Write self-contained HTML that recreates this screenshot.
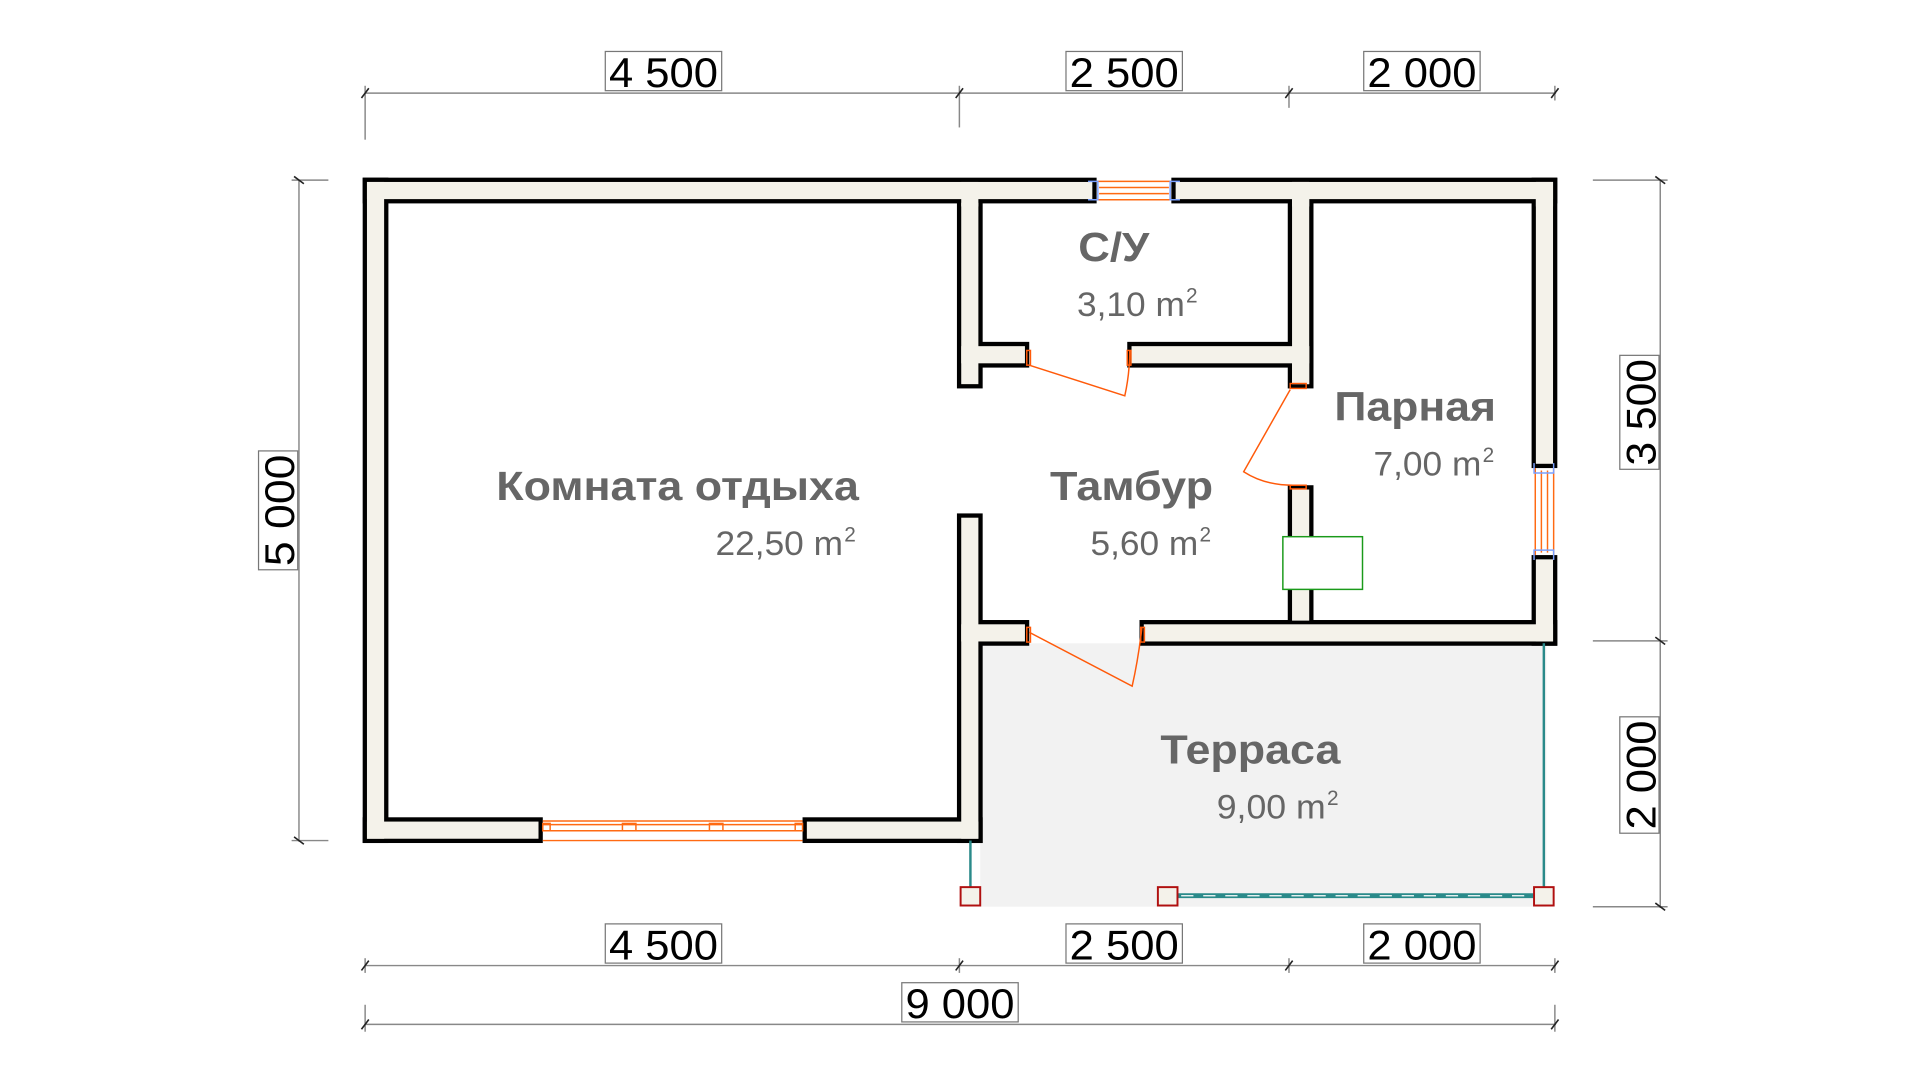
<!DOCTYPE html>
<html><head><meta charset="utf-8"><style>html,body{margin:0;padding:0;background:#fff}svg{display:block}</style></head><body>
<svg width="1920" height="1080" viewBox="0 0 1567 881.4" preserveAspectRatio="none" xmlns="http://www.w3.org/2000/svg" font-family="Liberation Sans, sans-serif">
<rect x="0" y="0" width="1570" height="890" fill="#fff"/>
<!-- terrace -->
<rect x="800" y="525" width="462" height="215" fill="#f2f2f2"/>
<!-- walls black outline pass -->
<g fill="#000">
<rect x="296" y="145" width="599" height="21"/>
<rect x="956" y="145" width="315" height="21"/>
<rect x="296" y="145" width="21" height="543"/>
<rect x="296" y="667" width="147" height="21"/>
<rect x="655" y="667" width="147" height="21"/>
<rect x="781" y="162" width="21" height="155"/>
<rect x="781" y="419" width="21" height="269"/>
<rect x="798" y="279" width="42" height="21"/>
<rect x="798" y="506" width="42" height="21"/>
<rect x="920" y="279" width="152" height="21"/>
<rect x="1051" y="162" width="21" height="155"/>
<rect x="1051" y="396" width="21" height="114"/>
<rect x="930" y="506" width="341" height="21"/>
<rect x="1250" y="145" width="21" height="237"/>
<rect x="1250" y="453" width="21" height="74"/>
</g>
<g fill="#f4f2ea">
<rect x="299.5" y="148.5" width="592" height="14"/>
<rect x="959.5" y="148.5" width="308" height="14"/>
<rect x="299.5" y="148.5" width="14" height="536"/>
<rect x="299.5" y="670.5" width="140" height="14"/>
<rect x="658.5" y="670.5" width="140" height="14"/>
<rect x="784.5" y="165.5" width="14" height="148"/>
<rect x="784.5" y="422.5" width="14" height="262"/>
<rect x="784.5" y="282.5" width="52" height="14"/>
<rect x="784.5" y="509.5" width="52" height="14"/>
<rect x="923.5" y="282.5" width="145" height="14"/>
<rect x="1054.5" y="148.5" width="14" height="165"/>
<rect x="1054.5" y="282.5" width="14" height="31"/>
<rect x="1054.5" y="399.5" width="14" height="107"/>
<rect x="933.5" y="509.5" width="334" height="14"/>
<rect x="1253.5" y="148.5" width="14" height="230"/>
<rect x="1253.5" y="456.5" width="14" height="67"/>
<rect x="784.5" y="148.5" width="14" height="20"/>
<rect x="1054.5" y="148.5" width="14" height="20"/>
<rect x="1253.5" y="509.5" width="14" height="14"/>
<rect x="1253.5" y="148.5" width="14" height="20"/>
</g>
<!-- windows -->
<g fill="none" stroke="#ff6a13" stroke-width="1.2">
<line x1="895" y1="148" x2="956" y2="148"/><line x1="895" y1="163" x2="956" y2="163"/>
<line x1="897" y1="153" x2="954" y2="153"/><line x1="897" y1="158" x2="954" y2="158"/>
<line x1="1253" y1="382" x2="1253" y2="453"/><line x1="1268" y1="382" x2="1268" y2="453"/>
<line x1="1258" y1="384" x2="1258" y2="451"/><line x1="1263" y1="384" x2="1263" y2="451"/>
<line x1="443" y1="670" x2="655" y2="670"/><line x1="443" y1="686" x2="655" y2="686"/>
<line x1="443" y1="673" x2="655" y2="673"/><line x1="443" y1="678" x2="655" y2="678"/>
<rect x="443" y="672" width="6" height="6"/><rect x="508" y="672" width="11" height="6"/><rect x="579" y="672" width="11" height="6"/><rect x="649" y="672" width="6" height="6"/>
</g>
<g fill="none" stroke="#7aa0ff" stroke-width="1.2">
<path d="M888 148 h8 v15 h-8 M963 148 h-8 v15 h8"/>
<path d="M1252 378 v8 h16 v-8 M1252 457 v-8 h16 v8"/>
</g>
<!-- doors -->
<g fill="none" stroke="#ff5a0a" stroke-width="1.2">
<rect x="838" y="286" width="3" height="12"/>
<path d="M840 298 L918 323 Q922 305 922 286"/>
<rect x="920" y="286" width="3" height="12"/>
<rect x="1053" y="313" width="13" height="4"/>
<path d="M1053 318 L1015 385 Q1032 396 1055 396"/>
<rect x="1053" y="396" width="13" height="3"/>
<rect x="838" y="512" width="3" height="12"/>
<path d="M840 516 L924 560 Q929 538 932 512"/>
<rect x="931" y="512" width="3" height="12"/>
</g>
<!-- stove -->
<rect x="1047" y="438" width="65" height="43" fill="#fff" stroke="#1a9a1a" stroke-width="1.2"/>
<!-- terrace rails -->
<g stroke="#2a8a8a" fill="none">
<line x1="792" y1="686" x2="792" y2="725" stroke-width="2"/>
<line x1="1260" y1="525" x2="1260" y2="725" stroke-width="2"/>
<line x1="961" y1="731" x2="1253" y2="731" stroke-width="4"/>
</g>
<line x1="964" y1="731" x2="1250" y2="731" stroke="#fff" stroke-width="1" stroke-dasharray="10 8"/>
<g fill="#f4f2ea" stroke="#b01010" stroke-width="1.6">
<rect x="784" y="724" width="16" height="15"/><rect x="945" y="724" width="16" height="15"/><rect x="1252" y="724" width="16" height="15"/>
</g>
<!-- dimension lines -->
<g stroke="#888" stroke-width="1.2" fill="none">
<line x1="298" y1="76" x2="1270" y2="76"/>
<line x1="298" y1="70" x2="298" y2="114"/><line x1="783" y1="70" x2="783" y2="104"/><line x1="1052" y1="70" x2="1052" y2="88"/><line x1="1269" y1="70" x2="1269" y2="82"/>
<line x1="298" y1="788" x2="1270" y2="788"/>
<line x1="298" y1="782" x2="298" y2="794"/><line x1="783" y1="782" x2="783" y2="794"/><line x1="1052" y1="782" x2="1052" y2="794"/><line x1="1269" y1="782" x2="1269" y2="794"/>
<line x1="298" y1="836" x2="1270" y2="836"/>
<line x1="298" y1="820" x2="298" y2="842"/><line x1="1269" y1="820" x2="1269" y2="842"/>
<line x1="244" y1="147" x2="244" y2="687"/>
<line x1="238" y1="147" x2="268" y2="147"/><line x1="238" y1="686" x2="268" y2="686"/>
<line x1="1355" y1="147" x2="1355" y2="741"/>
<line x1="1300" y1="147" x2="1361" y2="147"/><line x1="1300" y1="523" x2="1361" y2="523"/><line x1="1300" y1="740" x2="1361" y2="740"/>
</g>
<g stroke="#222" stroke-width="1.3">
<line x1="295" y1="80" x2="301" y2="72"/><line x1="780" y1="80" x2="786" y2="72"/><line x1="1049" y1="80" x2="1055" y2="72"/><line x1="1266" y1="80" x2="1272" y2="72"/>
<line x1="295" y1="792" x2="301" y2="784"/><line x1="780" y1="792" x2="786" y2="784"/><line x1="1049" y1="792" x2="1055" y2="784"/><line x1="1266" y1="792" x2="1272" y2="784"/>
<line x1="295" y1="840" x2="301" y2="832"/><line x1="1266" y1="840" x2="1272" y2="832"/>
<line x1="240" y1="144" x2="248" y2="150"/><line x1="240" y1="683" x2="248" y2="689"/>
<line x1="1351" y1="144" x2="1359" y2="150"/><line x1="1351" y1="520" x2="1359" y2="526"/><line x1="1351" y1="737" x2="1359" y2="743"/>
</g>
<g fill="#fff" stroke="#777" stroke-width="1">
<rect x="494" y="42" width="95" height="32"/><rect x="870" y="42" width="95" height="32"/><rect x="1113" y="42" width="95" height="32"/>
<rect x="494" y="754" width="95" height="32"/><rect x="870" y="754" width="95" height="32"/><rect x="1113" y="754" width="95" height="32"/>
<rect x="736" y="802" width="95" height="32"/>
<rect x="211" y="368" width="32" height="97"/>
<rect x="1322" y="290" width="32" height="93"/>
<rect x="1322" y="585" width="32" height="95"/>
</g>
<g fill="#000" font-size="34">
<text x="497" y="71" textLength="89" lengthAdjust="spacingAndGlyphs">4 500</text>
<text x="873" y="71" textLength="89" lengthAdjust="spacingAndGlyphs">2 500</text>
<text x="1116" y="71" textLength="89" lengthAdjust="spacingAndGlyphs">2 000</text>
<text x="497" y="783" textLength="89" lengthAdjust="spacingAndGlyphs">4 500</text>
<text x="873" y="783" textLength="89" lengthAdjust="spacingAndGlyphs">2 500</text>
<text x="1116" y="783" textLength="89" lengthAdjust="spacingAndGlyphs">2 000</text>
<text x="739" y="831" textLength="89" lengthAdjust="spacingAndGlyphs">9 000</text>
<text transform="translate(240,462) rotate(-90)" textLength="91" lengthAdjust="spacingAndGlyphs">5 000</text>
<text transform="translate(1351,380) rotate(-90)" textLength="87" lengthAdjust="spacingAndGlyphs">3 500</text>
<text transform="translate(1351,677) rotate(-90)" textLength="89" lengthAdjust="spacingAndGlyphs">2 000</text>
</g>
<!-- room labels -->
<g fill="#666" font-weight="bold" font-size="33">
<text x="405" y="408" textLength="296" lengthAdjust="spacingAndGlyphs">Комната отдыха</text>
<text x="880" y="213" textLength="58" lengthAdjust="spacingAndGlyphs">С/У</text>
<text x="857" y="408" textLength="133" lengthAdjust="spacingAndGlyphs">Тамбур</text>
<text x="1089" y="343" textLength="132" lengthAdjust="spacingAndGlyphs">Парная</text>
<text x="947" y="623" textLength="147" lengthAdjust="spacingAndGlyphs">Терраса</text>
</g>
<g fill="#666" font-size="28">
<text x="584" y="453" textLength="104" lengthAdjust="spacingAndGlyphs">22,50 m</text><text x="689" y="442" font-size="17">2</text>
<text x="879" y="258" textLength="88" lengthAdjust="spacingAndGlyphs">3,10 m</text><text x="968" y="247" font-size="17">2</text>
<text x="890" y="453" textLength="88" lengthAdjust="spacingAndGlyphs">5,60 m</text><text x="979" y="442" font-size="17">2</text>
<text x="1121" y="388" textLength="88" lengthAdjust="spacingAndGlyphs">7,00 m</text><text x="1210" y="377" font-size="17">2</text>
<text x="993" y="668" textLength="89" lengthAdjust="spacingAndGlyphs">9,00 m</text><text x="1083" y="657" font-size="17">2</text>
</g>
</svg>
</body></html>
